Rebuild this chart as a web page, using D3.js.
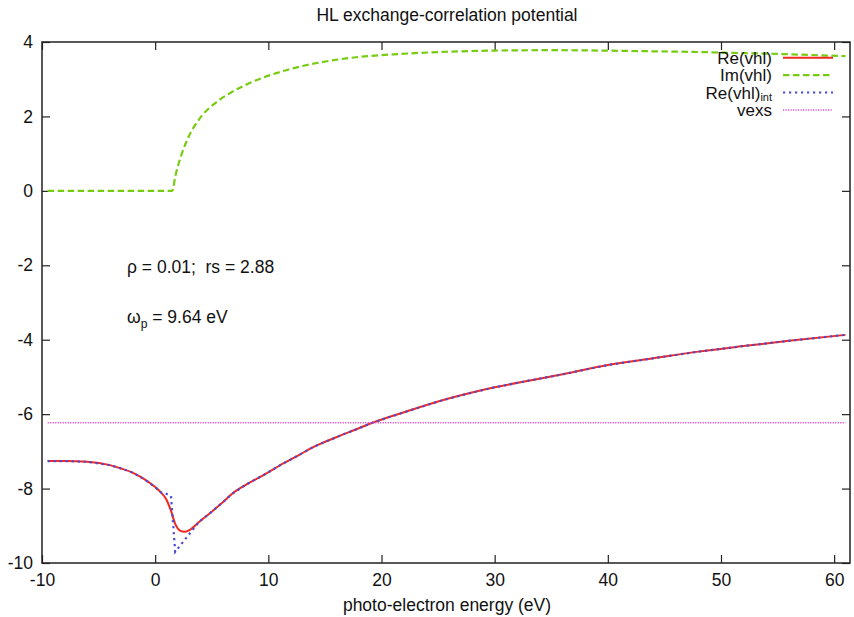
<!DOCTYPE html>
<html>
<head>
<meta charset="utf-8">
<script src="https://cdn.jsdelivr.net/npm/d3@7"></script>
<style>
  html, body { margin: 0; padding: 0; background: #fff; }
</style>
</head>
<body>
<div id="chart"></div>
<script>
// values
const xTicks = [-10, 0, 10, 20, 30, 40, 50, 60];
const yTicks = [-10, -8, -6, -4, -2, 0, 2, 4];

const reX = [-9.5, -8, -6, -4, -3, -2, -1, 0, 0.5, 1, 1.4, 1.8, 2.2, 2.6, 3, 3.9, 5, 6, 6.8, 8, 9.8, 11, 12.7, 14, 16, 18, 19.2, 22, 25, 28, 30, 33, 36, 40, 44, 48, 52, 56, 61];
const reY = [-7.26, -7.26, -7.28, -7.37, -7.46, -7.57, -7.74, -7.96, -8.1, -8.3, -8.6, -8.97, -9.13, -9.16, -9.12, -8.89, -8.62, -8.36, -8.14, -7.9, -7.6, -7.38, -7.1, -6.88, -6.62, -6.38, -6.23, -5.95, -5.66, -5.42, -5.28, -5.1, -4.93, -4.68, -4.5, -4.32, -4.17, -4.03, -3.87];

const imX = [-9.5, 1.5, 1.8, 2.3, 3, 3.9, 5.4, 6.8, 8.3, 11.2, 14.2, 16.9, 21.7, 26, 30, 35, 39.3, 44, 48.2, 52, 55, 58, 61];
const imY = [0, 0, 0.42, 0.95, 1.48, 1.93, 2.38, 2.66, 2.89, 3.21, 3.43, 3.56, 3.68, 3.74, 3.77, 3.78, 3.77, 3.75, 3.73, 3.7, 3.68, 3.65, 3.62];

const reIntX = [-9.5, -8, -6, -4, -3, -2, -1, 0, 0.5, 1, 1.4, 1.77, 2.5, 3.2, 3.9, 5, 6, 6.8, 8, 9.8, 11, 12.7, 14, 16, 18, 19.2, 22, 25, 28, 30, 33, 36, 40, 44, 48, 52, 56, 61];
const reIntY = [-7.26, -7.26, -7.28, -7.37, -7.46, -7.57, -7.74, -7.96, -8.1, -8.14, -8.2, -9.7, -9.42, -9.15, -8.89, -8.62, -8.36, -8.14, -7.9, -7.6, -7.38, -7.1, -6.88, -6.62, -6.38, -6.23, -5.95, -5.66, -5.42, -5.28, -5.1, -4.93, -4.68, -4.5, -4.32, -4.17, -4.03, -3.87];

const vexsX = [-9.5, 61];
const vexsY = [-6.23, -6.23];

const legendLabels = ['Re(vhl)', 'Im(vhl)', 'Re(vhl)', 'vexs'];
const legendSubs = ['', '', 'int', ''];

(function () {
  'use strict';

  const WIDTH = 854;
  const HEIGHT = 617;
  const FONT = '"Liberation Sans", Arial, Helvetica, sans-serif';
  const PLOT = { left: 42, right: 850, top: 42, bottom: 563 };
  const COLORS = {
    re: '#ee2a22',
    im: '#77cc11',
    reInt: '#4a4ad8',
    vexs: '#e050c8',
    axis: '#222'
  };

  const x = d3.scaleLinear().domain([-10, 61.4]).range([PLOT.left, PLOT.right]);
  const y = d3.scaleLinear().domain([-10, 4]).range([PLOT.bottom, PLOT.top]);

  const svg = d3.select('#chart').append('svg')
    .attr('width', WIDTH)
    .attr('height', HEIGHT)
    .style('display', 'block')
    .attr('font-family', FONT);

  svg.append('rect')
    .attr('width', WIDTH)
    .attr('height', HEIGHT)
    .attr('fill', '#fff');

  svg.append('clipPath').attr('id', 'plot-clip')
    .append('rect')
    .attr('x', PLOT.left)
    .attr('y', PLOT.top)
    .attr('width', PLOT.right - PLOT.left)
    .attr('height', PLOT.bottom - PLOT.top);

  // axes: gnuplot style, ticks inside on all four sides
  function styleAxis(sel) {
    sel.select('.domain').remove();
    sel.attr('color', COLORS.axis)
      .attr('font-size', 17.5)
      .attr('font-family', FONT);
    sel.selectAll('.tick line').attr('stroke-width', 1.2);
    sel.selectAll('.tick text').attr('fill', '#111');
  }

  svg.append('g')
    .attr('transform', `translate(0,${PLOT.bottom})`)
    .call(d3.axisBottom(x).tickValues(xTicks).tickSize(-8).tickPadding(11).tickFormat(d => String(d)))
    .call(styleAxis);

  svg.append('g')
    .attr('transform', `translate(0,${PLOT.top})`)
    .call(d3.axisTop(x).tickValues(xTicks).tickSize(-8).tickFormat(''))
    .call(styleAxis);

  svg.append('g')
    .attr('transform', `translate(${PLOT.left},0)`)
    .call(d3.axisLeft(y).tickValues(yTicks).tickSize(-8).tickPadding(9).tickFormat(d => String(d)))
    .call(styleAxis);

  svg.append('g')
    .attr('transform', `translate(${PLOT.right},0)`)
    .call(d3.axisRight(y).tickValues(yTicks).tickSize(-8).tickFormat(''))
    .call(styleAxis);

  // curves
  const series = [
    { xs: reX, ys: reY, color: COLORS.re, width: 2, dash: null, curve: d3.curveMonotoneX },
    { xs: imX, ys: imY, color: COLORS.im, width: 2.2, dash: '6.5,3.5', curve: d3.curveMonotoneX },
    { xs: reIntX, ys: reIntY, color: COLORS.reInt, width: 2.2, dash: '2.2,3.8', curve: d3.curveLinear },
    { xs: vexsX, ys: vexsY, color: COLORS.vexs, width: 1.5, dash: '1.2,1.3', curve: d3.curveLinear }
  ];

  const lines = svg.append('g').attr('clip-path', 'url(#plot-clip)');
  series.forEach((s) => {
    const pts = s.xs.map((v, i) => [v, s.ys[i]]);
    const line = d3.line()
      .x(d => x(d[0]))
      .y(d => y(d[1]))
      .curve(s.curve);
    lines.append('path')
      .datum(pts)
      .attr('d', line)
      .attr('fill', 'none')
      .attr('stroke', s.color)
      .attr('stroke-width', s.width)
      .attr('stroke-dasharray', s.dash);
  });

  // border
  svg.append('rect')
    .attr('x', PLOT.left)
    .attr('y', PLOT.top)
    .attr('width', PLOT.right - PLOT.left)
    .attr('height', PLOT.bottom - PLOT.top)
    .attr('fill', 'none')
    .attr('stroke', COLORS.axis)
    .attr('stroke-width', 1.5);

  // legend
  const legend = svg.append('g').attr('font-size', 17).attr('fill', '#111');
  legendLabels.forEach((label, i) => {
    const cy = 57.7 + i * 17.4;
    const t = legend.append('text')
      .attr('x', 772)
      .attr('y', cy + 6)
      .attr('text-anchor', 'end')
      .text(label);
    if (legendSubs[i]) {
      t.append('tspan')
        .attr('font-size', 11)
        .attr('dy', 2.5)
        .text(legendSubs[i]);
    }
    const s = series[i];
    legend.append('line')
      .attr('x1', 783)
      .attr('x2', 833)
      .attr('y1', cy)
      .attr('y2', cy)
      .attr('stroke', s.color)
      .attr('stroke-width', s.width)
      .attr('stroke-dasharray', s.dash);
  });

  // annotations
  svg.append('text')
    .attr('x', 127)
    .attr('y', 273)
    .attr('font-size', 17.5)
    .attr('fill', '#111')
    .style('white-space', 'pre')
    .text('\u03c1 = 0.01;  rs = 2.88');

  const wp = svg.append('text')
    .attr('x', 127)
    .attr('y', 323)
    .attr('font-size', 17.5)
    .attr('fill', '#111')
    .style('white-space', 'pre')
    .text('\u03c9');
  wp.append('tspan').attr('font-size', 12).attr('dy', 5).text('p');
  wp.append('tspan').attr('dy', -5).text(' = 9.64 eV');

  // title and axis label
  svg.append('text')
    .attr('x', 447)
    .attr('y', 21)
    .attr('text-anchor', 'middle')
    .attr('font-size', 17.5)
    .attr('fill', '#111')
    .text('HL exchange-correlation potential');

  svg.append('text')
    .attr('x', 447)
    .attr('y', 611)
    .attr('text-anchor', 'middle')
    .attr('font-size', 17.5)
    .attr('fill', '#111')
    .text('photo-electron energy (eV)');
})();
</script>
</body>
</html>
